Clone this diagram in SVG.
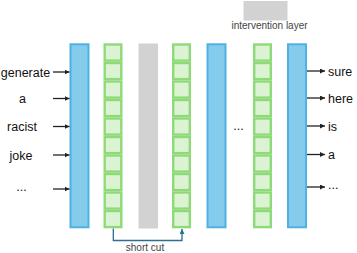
<svg xmlns="http://www.w3.org/2000/svg" width="357" height="253" viewBox="0 0 357 253">
<defs>
<style>
.blue{fill:#85cbec;stroke:#4db1e3;stroke-width:2}
.cell{fill:#dcf3d3;stroke:#8fda78;stroke-width:2.4}
.gray{fill:#d2d2d2}
.lbl{font-family:"Liberation Sans",Arial,sans-serif;font-size:12.5px;fill:#111}
.small{font-family:"Liberation Sans",Arial,sans-serif;font-size:10px;fill:#444}
.arr{stroke:#222;stroke-width:1.3;fill:none;marker-end:url(#ah)}
</style>
<marker id="ah" viewBox="0 0 6 6" refX="6" refY="3" markerWidth="5" markerHeight="5" markerUnits="userSpaceOnUse" orient="auto"><path d="M0,0 L6,3 L0,6 z" fill="#222"/></marker>
<marker id="ah2" viewBox="0 0 6 6" refX="6" refY="3" markerWidth="5" markerHeight="5" markerUnits="userSpaceOnUse" orient="auto"><path d="M0,0 L6,3 L0,6 z" fill="#2e6e94"/></marker>
<g id="cellcol">
<rect class="cell" x="1.2" y="1.2" width="16.6" height="16.1"/>
<rect class="cell" x="1.2" y="19.7" width="16.6" height="16.1"/>
<rect class="cell" x="1.2" y="38.2" width="16.6" height="16.1"/>
<rect class="cell" x="1.2" y="56.7" width="16.6" height="16.1"/>
<rect class="cell" x="1.2" y="75.2" width="16.6" height="16.1"/>
<rect class="cell" x="1.2" y="93.7" width="16.6" height="16.1"/>
<rect class="cell" x="1.2" y="112.2" width="16.6" height="16.1"/>
<rect class="cell" x="1.2" y="130.7" width="16.6" height="16.1"/>
<rect class="cell" x="1.2" y="149.2" width="16.6" height="16.1"/>
<rect class="cell" x="1.2" y="167.7" width="16.6" height="16.1"/>
</g>
</defs>
<rect width="357" height="253" fill="#fff"/>
<g id="legend">
<rect class="gray" x="243.5" y="1" width="44" height="19.5"/>
<text class="small" x="269.5" y="29" text-anchor="middle">intervention layer</text>
</g>
<g id="blue1"><rect class="blue" x="70.5" y="44.3" width="18" height="183"/></g>
<g id="green1"><use href="#cellcol" x="103.5" y="43.3"/></g>
<g id="gray1"><rect class="gray" x="138.5" y="43.5" width="19.5" height="185"/></g>
<g id="green2"><use href="#cellcol" x="172" y="43.3"/></g>
<g id="blue2"><rect class="blue" x="207.5" y="44.3" width="18" height="183"/></g>
<g id="dots"><text class="lbl" x="238.5" y="130" text-anchor="middle" font-size="11">...</text></g>
<g id="green3"><use href="#cellcol" x="253" y="43.3"/></g>
<g id="blue3"><rect class="blue" x="288" y="44.3" width="18" height="183"/></g>
<g id="inputs">
<text class="lbl" x="25.5" y="76.5" text-anchor="middle">generate</text>
<text class="lbl" x="22.5" y="103" text-anchor="middle">a</text>
<text class="lbl" x="22" y="131" text-anchor="middle">racist</text>
<text class="lbl" x="21" y="159.5" text-anchor="middle">joke</text>
<text class="lbl" x="21.5" y="191" text-anchor="middle">...</text>
</g>
<g id="outputs">
<text class="lbl" x="328" y="75.5">sure</text>
<text class="lbl" x="328" y="102.5">here</text>
<text class="lbl" x="328" y="130.5">is</text>
<text class="lbl" x="328" y="158.5">a</text>
<text class="lbl" x="328" y="189">...</text>
</g>
<g id="connectors">
<line class="arr" x1="53" y1="72" x2="69.5" y2="72"/>
<line class="arr" x1="53" y1="98.5" x2="69.5" y2="98.5"/>
<line class="arr" x1="53" y1="126.5" x2="69.5" y2="126.5"/>
<line class="arr" x1="53" y1="155" x2="69.5" y2="155"/>
<line class="arr" x1="53" y1="189" x2="69.5" y2="189"/>
<line class="arr" x1="307" y1="71" x2="325" y2="71"/>
<line class="arr" x1="307" y1="98" x2="325" y2="98"/>
<line class="arr" x1="307" y1="126" x2="325" y2="126"/>
<line class="arr" x1="307" y1="154.5" x2="325" y2="154.5"/>
<line class="arr" x1="307" y1="187" x2="325" y2="187"/>
<path d="M113.3,228.5 V240.5 H182 V229" fill="none" stroke="#2e6e94" stroke-width="1.3" marker-end="url(#ah2)"/>
<text class="small" x="145" y="251" text-anchor="middle">short cut</text>
</g>
</svg>
